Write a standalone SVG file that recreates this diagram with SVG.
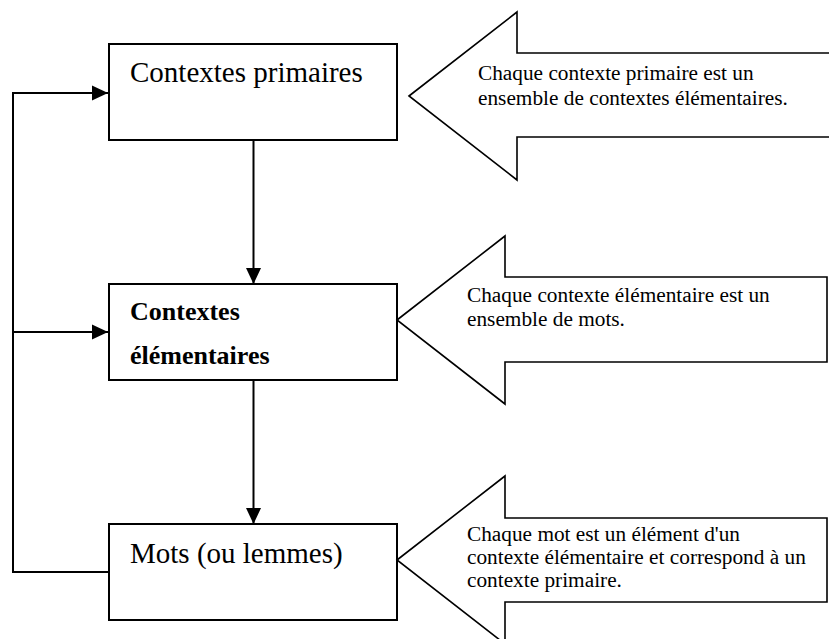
<svg xmlns="http://www.w3.org/2000/svg" width="829" height="639" viewBox="0 0 829 639">
  <style>
    .box { fill: #ffffff; stroke: #000000; stroke-width: 2; }
    .callout { fill: #ffffff; stroke: #000000; stroke-width: 1.6; stroke-linejoin: miter; }
    .conn { fill: none; stroke: #000000; stroke-width: 2; }
    .label { font-family: "Liberation Serif", "Times New Roman", serif; font-size: 29px; fill: #000000; }
    .bold { font-family: "Liberation Serif", "Times New Roman", serif; font-size: 26px; font-weight: bold; fill: #000000; }
    .note { font-family: "Liberation Serif", "Times New Roman", serif; font-size: 21.3px; fill: #000000; }
  </style>
  <defs>
    <marker id="arrow" markerUnits="userSpaceOnUse" markerWidth="16" markerHeight="16" viewBox="0 0 16 16" refX="16" refY="8" orient="auto">
      <path d="M0,0.5 L16,8 L0,15.5 Z" fill="#000000"/>
    </marker>
  </defs>
  <rect width="829" height="639" fill="#ffffff"/>

  <g id="connectors">
    <line class="conn" x1="253.5" y1="140" x2="253.5" y2="284" marker-end="url(#arrow)"/>
    <line class="conn" x1="253.5" y1="380" x2="253.5" y2="524" marker-end="url(#arrow)"/>
    <polyline class="conn" points="109,572 13,572 13,93 108,93" marker-end="url(#arrow)"/>
    <line class="conn" x1="13" y1="332" x2="108" y2="332" marker-end="url(#arrow)"/>
  </g>

  <g id="node-contextes-primaires">
    <rect class="box" x="109" y="44" width="288" height="96"/>
    <text class="label" x="130" y="82">Contextes primaires</text>
  </g>

  <g id="node-contextes-elementaires">
    <rect class="box" x="109" y="284" width="288" height="96"/>
    <text class="bold" x="130" y="320">Contextes</text>
    <text class="bold" x="130" y="364">élémentaires</text>
  </g>

  <g id="node-mots">
    <rect class="box" x="109" y="524" width="288" height="96"/>
    <text class="label" x="130" y="563">Mots (ou lemmes)</text>
  </g>

  <g id="callout-primaire">
    <polygon class="callout" points="409,96 517,12 517,53 830,53 830,137 517,137 517,180"/>
    <text class="note" x="478" y="80">Chaque contexte primaire est un</text>
    <text class="note" x="478" y="105">ensemble de contextes élémentaires.</text>
  </g>

  <g id="callout-elementaire">
    <polygon class="callout" points="397,320 505,236 505,277 827,277 827,362 505,362 505,404"/>
    <text class="note" x="467" y="302">Chaque contexte élémentaire est un</text>
    <text class="note" x="467" y="326">ensemble de mots.</text>
  </g>

  <g id="callout-mot">
    <polygon class="callout" points="397,560 505,476 505,518 827,518 827,602 505,602 505,644"/>
    <text class="note" x="467" y="541">Chaque mot est un élément d'un</text>
    <text class="note" x="467" y="564">contexte élémentaire et correspond à un</text>
    <text class="note" x="467" y="587">contexte primaire.</text>
  </g>
</svg>
